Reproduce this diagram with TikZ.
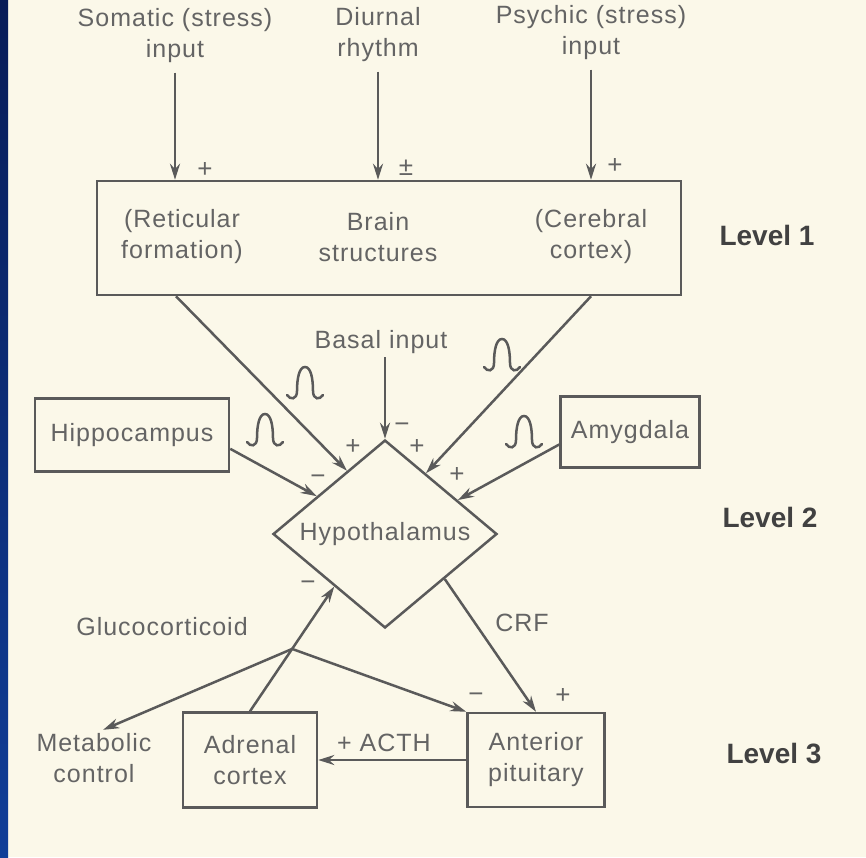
\documentclass[tikz,border=0pt]{standalone}
\usepackage{fontspec}
\setmainfont{Liberation Sans}
\newfontfamily\labfont[LetterSpace=4]{Liberation Sans}
\usepackage{tikz}
\usetikzlibrary{arrows.meta,shapes.geometric}
\definecolor{bgc}{RGB}{251,248,233}
\definecolor{inkc}{RGB}{90,90,90}
\definecolor{txtc}{RGB}{100,100,100}
\definecolor{lvlc}{RGB}{65,65,65}
\definecolor{navytop}{RGB}{8,28,88}
\definecolor{navybot}{RGB}{16,62,152}

\begin{document}
\begin{tikzpicture}[x=1pt,y=-1pt,
  lbl/.style={font=\labfont\fontsize{25}{31}\selectfont,text=txtc,align=center},
  lvl/.style={font=\bfseries\fontsize{28}{32}\selectfont,text=lvlc},
  sgn/.style={font=\fontsize{26}{28}\selectfont,text=txtc,inner sep=0pt},
  box/.style={draw=inkc,line width=2.5pt,inner sep=0pt,lbl},
  arr/.style={draw=inkc,line width=2.5pt,-{Stealth[length=16pt,width=10pt]}},
  spike/.pic={\draw[inkc,line width=2.5pt,line cap=round]
    (-18,12) .. controls (-15,17) and (-8,17) .. (-8,8)
    .. controls (-8,-4) and (-6,-16) .. (0,-16)
    .. controls (6,-16) and (8,-4) .. (8,8)
    .. controls (8,17) and (15,17) .. (18,12);}]
% Background
\useasboundingbox (0,0) rectangle (866,857);
\fill[bgc] (0,0) rectangle (866,857);
\shade[top color=navytop,bottom color=navybot] (0,0) rectangle (8,857);
% Inputs
\node[lbl] (somatic) at (175,36) {Somatic (stress)\\input};
\node[lbl] (diurnal) at (378,35) {Diurnal\\rhythm};
\node[lbl] (psychic) at (591,33) {Psychic (stress)\\input};
% Level 1
\node[box,minimum width=584pt,minimum height=114pt] (lvl1) at (389,238) {};
\node[lbl] (retic) at (182,237) {(Reticular\\formation)};
\node[lbl] (brain) at (378,237) {Brain\\structures};
\node[lbl] (cereb) at (591,237) {(Cerebral\\cortex)};
% Level 2
\node[lbl] (basal) at (381,342) {Basal input};
\node[draw=inkc,line width=2.5pt,shape=diamond,aspect=1.2,inner sep=0pt,
  minimum width=224pt,minimum height=188pt,lbl] (hypo) at (385,534) {Hypothalamus};
\node[box,minimum width=194pt,minimum height=73pt] (hippo) at (132,435) {Hippocampus};
\node[box,minimum width=139pt,minimum height=71pt] (amyg) at (630,432) {Amygdala};
% Level 3
\node[box,minimum width=134pt,minimum height=95pt] (adrenal) at (250,760) {Adrenal\\cortex};
\node[box,minimum width=137pt,minimum height=94pt] (antpit) at (536,760) {Anterior\\pituitary};
\node[lbl] (metab) at (94,758) {Metabolic\\control};
\node[lbl] (gluco) at (162,627) {Glucocorticoid};
\node[lbl] (crf) at (522,623) {CRF};
\node[lbl] (acth) at (384,743) {+ ACTH};
% Level labels
\node[lvl] (l1) at (767,235) {Level 1};
\node[lvl] (l2) at (770,517) {Level 2};
\node[lvl] (l3) at (774,753) {Level 3};
% Arrows
\draw[arr,shorten <=6pt] (somatic.south) -- (somatic |- lvl1.north);
\draw[arr,shorten <=6pt] (diurnal.south) -- (diurnal |- lvl1.north);
\draw[arr,shorten <=6pt] (psychic.south) -- (psychic |- lvl1.north);
\draw[arr] ([xshift=-6pt]retic |- lvl1.south) -- (hypo.121);
\draw[arr] (cereb |- lvl1.south) -- (hypo.56);
\draw[arr] (hypo.north |- basal.south) -- (hypo.north);
\draw[arr] (hippo.-8) -- (hypo.151);
\draw[arr] (amyg.190) -- (hypo.25);
\draw[arr] (hypo.323) -- (antpit.north);
\draw[arr] (antpit.west) -- (adrenal.east);
\draw[arr] (adrenal.north) -- coordinate (gj) (hypo.226);
\draw[arr] (gj) -- (metab.72);
\draw[arr] (gj) -- (antpit.north west);
% Pulses
\pic at (305,383) {spike};
\pic at (502,355) {spike};
\pic at (265,430) {spike};
\pic at (524,432) {spike};
% Signs
\node[sgn] (s1) at (205,170) {+};
\node[sgn] (s2) at (406,168) {±};
\node[sgn] (s3) at (615,166) {+};
\node[sgn] (s4) at (353,447) {+};
\node[sgn] (s5) at (402,428) {−};
\node[sgn] (s6) at (417,447) {+};
\node[sgn] (s7) at (457,475) {+};
\node[sgn] (s8) at (318,480) {−};
\node[sgn] (s9) at (308,586) {−};
\node[sgn] (s10) at (476,698) {−};
\node[sgn] (s11) at (563,696) {+};
\end{tikzpicture}
\end{document}
